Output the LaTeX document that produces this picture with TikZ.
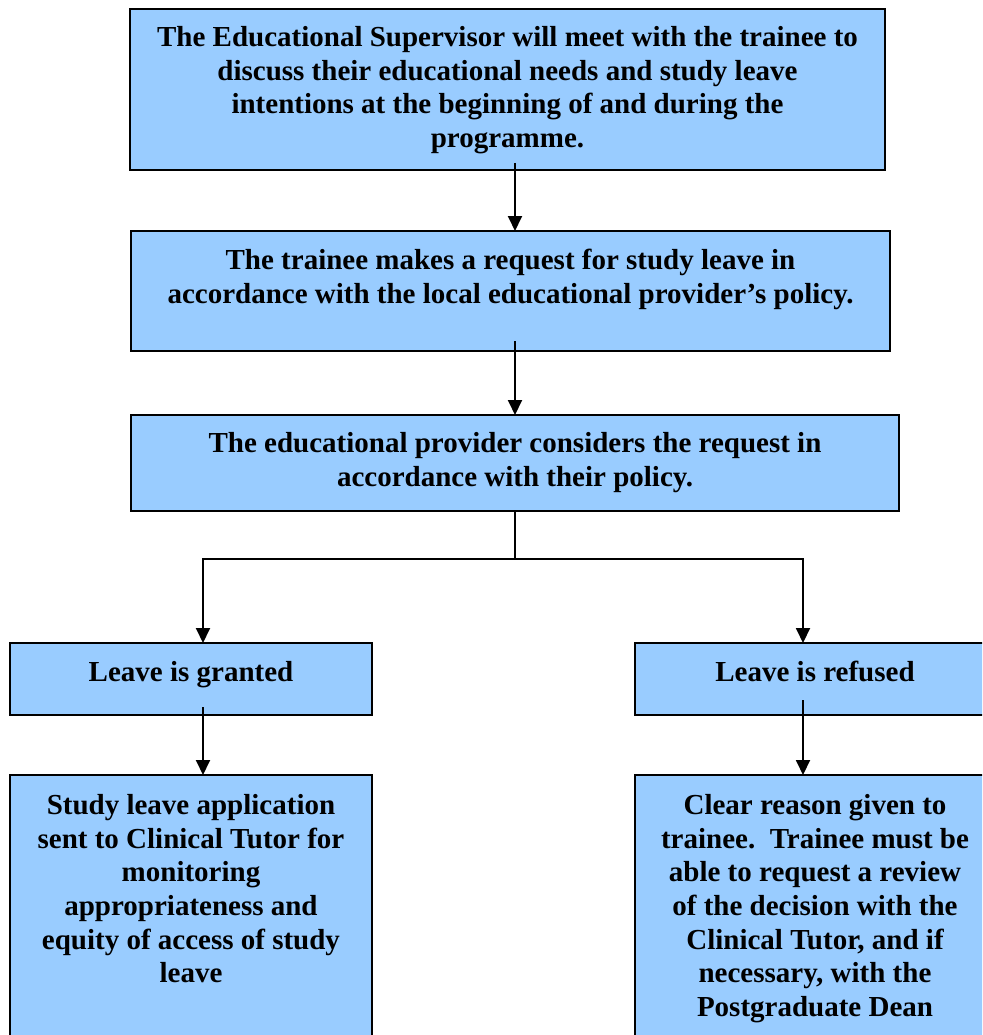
\documentclass[tikz,border=0pt]{standalone}
\usepackage{fontspec}
\setmainfont{Liberation Serif}
\usetikzlibrary{arrows.meta}
\definecolor{boxblue}{HTML}{99CCFF}
\begin{document}
\begin{tikzpicture}[x=1pt,y=-1pt,
  box/.style={draw=black,line width=1.8pt,fill=boxblue,rectangle,inner sep=0pt,outer sep=0pt,anchor=north west},
  txt/.style={anchor=north,align=center,inner sep=0pt,font=\bfseries\fontsize{29}{33.7}\selectfont},
  conn/.style={line width=1.9pt,black},
  arr/.style={conn,-{Triangle[length=15pt,width=14pt]}}]
\useasboundingbox (0,0) rectangle (982,1035);
\clip (0,0) rectangle (982,1035);
\node[box,minimum width=755pt,minimum height=161pt] (b1) at (130,9) {};
\node[box,minimum width=759pt,minimum height=120pt] (b2) at (131,231) {};
\node[box,minimum width=768pt,minimum height=96pt] (b3) at (131,415) {};
\node[box,minimum width=362pt,minimum height=72pt] (g) at (10,643) {};
\node[box,minimum width=360pt,minimum height=72pt] (r) at (635,643) {};
\node[box,minimum width=362pt,minimum height=290pt] (gl) at (10,775) {};
\node[box,minimum width=360pt,minimum height=290pt] (rl) at (635,775) {};
\node[txt] (t1) at ([yshift=-17pt]b1.north) {The Educational Supervisor will meet with the trainee to\\discuss their educational needs and study leave\\intentions at the beginning of and during the\\programme.};
\node[txt] (t2) at ([yshift=-18pt]b2.north) {The trainee makes a request for study leave in\\accordance with the local educational provider’s policy.};
\node[txt] (t3) at ([yshift=-17pt]b3.north) {The educational provider considers the request in\\accordance with their policy.};
\node[txt] (tg) at ([yshift=-18pt]g.north) {Leave is granted};
\node[txt] (tr) at ([yshift=-18pt]r.north) {Leave is refused};
\node[txt] (tgl) at ([yshift=-19pt]gl.north) {Study leave application\\sent to Clinical Tutor for\\monitoring\\appropriateness and\\equity of access of study\\leave};
\node[txt] (trl) at ([yshift=-19pt]rl.north) {Clear reason given to\\trainee.\ \ Trainee must be\\able to request a review\\of the decision with the\\Clinical Tutor, and if\\necessary, with the\\Postgraduate Dean};
\coordinate (a1) at ([xshift=7.5pt,yshift=7pt]b1.south);
\draw[arr] (a1) -- (a1 |- b2.north);
\coordinate (a2) at ([xshift=4.5pt,yshift=10pt]b2.south);
\draw[arr] (a2) -- (a2 |- b3.north);
\coordinate (split) at ([yshift=-48pt]b3.south);
\coordinate (gx) at ([xshift=12pt]g.north);
\coordinate (rx) at ([xshift=-12pt]r.north);
\draw[conn] (b3.south) -- (split);
\draw[arr] (split) -| (gx);
\draw[arr] (split) -| (rx);
\coordinate (a3) at ([xshift=12pt,yshift=8pt]g.south);
\draw[arr] (a3) -- (a3 |- gl.north);
\coordinate (a4) at ([xshift=-12pt,yshift=15pt]r.south);
\draw[arr] (a4) -- (a4 |- rl.north);
\end{tikzpicture}
\end{document}
